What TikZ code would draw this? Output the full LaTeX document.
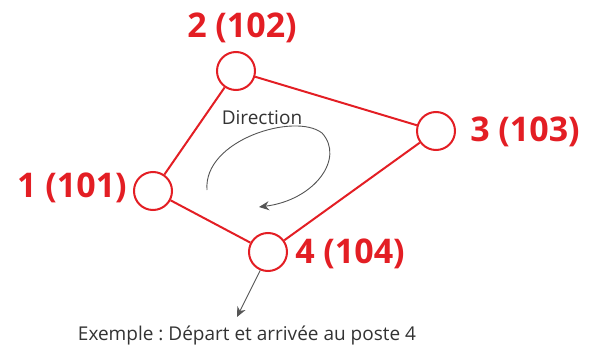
\documentclass[tikz,border=0pt]{standalone}
\usepackage{fontspec}
\setmainfont{Open Sans}
\usepackage{xcolor}
\usetikzlibrary{positioning,arrows.meta}
\definecolor{ringred}{HTML}{E31E24}
\definecolor{pathgray}{HTML}{555555}
\definecolor{textgray}{HTML}{333333}
\frenchspacing
\tikzset{
    post/.style={circle, draw=ringred, line width=2pt, fill=white, minimum size=38pt, inner sep=0pt},
    postlabel/.style={text=ringred, font=\fontsize{34}{40}\selectfont\bfseries, inner sep=0pt},
    edge/.style={draw=ringred, line width=2pt},
    note/.style={text=textgray, font=\fontsize{19}{23}\selectfont, inner sep=0pt},
    pointer/.style={-{Stealth[length=10pt, width=9pt]}, color=pathgray, line width=0.9pt}
}
\begin{document}
\begin{tikzpicture}[x=1pt, y=-1pt]
\useasboundingbox (0,0) rectangle (592,345);

\node[post] (c1) at (153,191) {};

\node[post] (c2) at (236,71) {};

\node[post] (c3) at (436,131) {};

\node[post] (c4) at (268,252) {};

\node[postlabel] (l1) at (72,188) {1 (101)};

\node[postlabel] (l2) at (242,28) {2 (102)};

\node[postlabel] (l3) at (525,132) {3 (103)};

\node[postlabel] (l4) at (350,254) {4 (104)};

\draw[edge] (c1) -- (c2);
\draw[edge] (c2) -- (c3);
\draw[edge] (c3) -- (c4);
\draw[edge] (c4) -- (c1);

\node[note] (dir) at (262,118) {Direction};

\node[note] (example) at (247,336) {Exemple : Départ et arrivée au poste 4};

% sens de parcours
\coordinate (loopstart) at (207,190);
\coordinate (loopend) at (259,207);
\draw[pointer] (loopstart) .. controls (203,140) and (295,112) .. (322,133)
    .. controls (345,158) and (315,200) .. (loopend);

\coordinate (exampletip) at (237,317);
\draw[pointer] (c4.-113) -- (exampletip);

\end{tikzpicture}
\end{document}
